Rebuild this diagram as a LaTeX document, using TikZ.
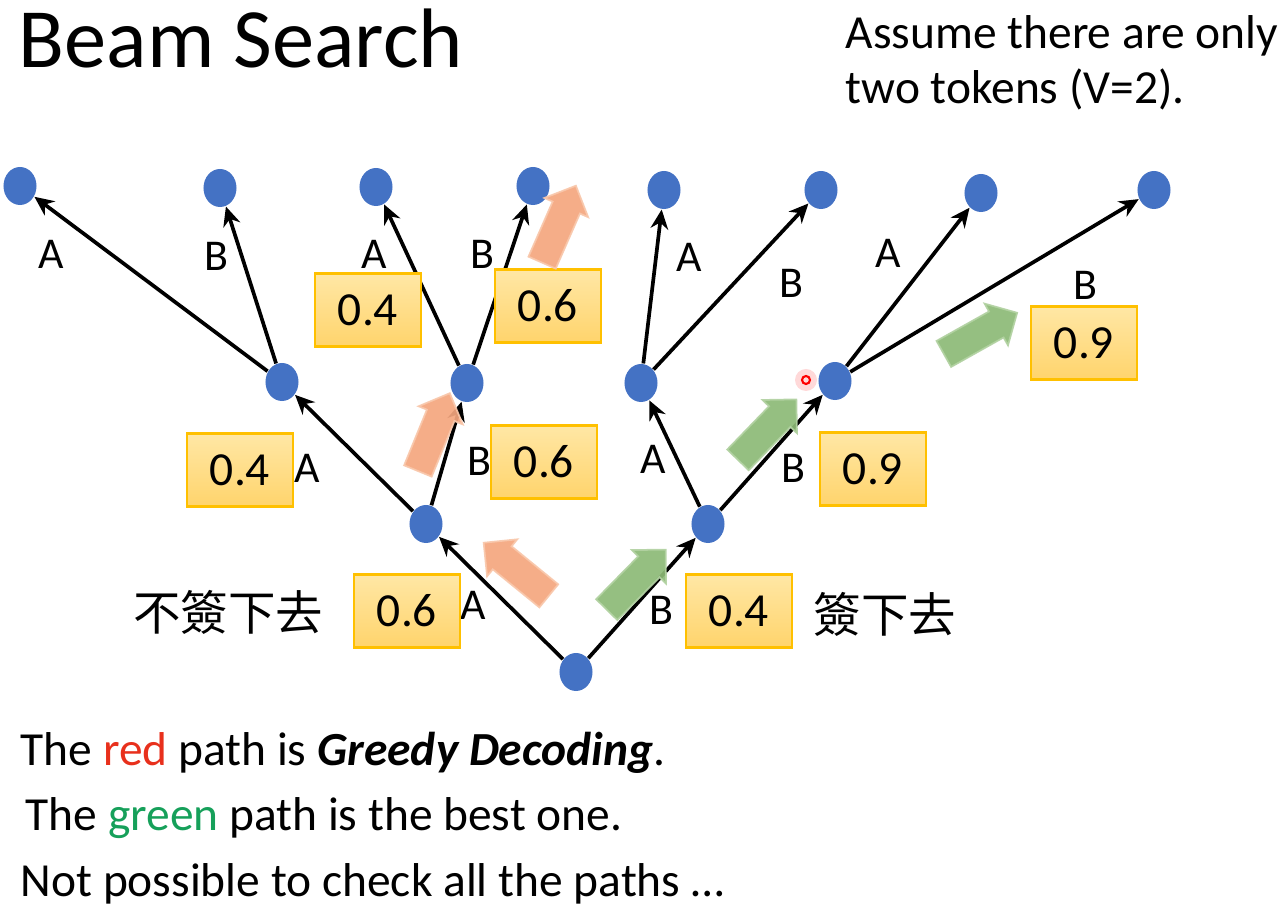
\documentclass[tikz,border=0pt]{standalone}
\usepackage{fontspec}
\setmainfont{Carlito}
\newfontfamily\cjkfont{Noto Sans CJK TC}
\usetikzlibrary{arrows.meta,shapes.geometric,shapes.arrows,positioning}

\definecolor{dotblue}{RGB}{68,114,196}
\definecolor{boxgold}{RGB}{255,192,0}
\definecolor{boxtop}{RGB}{255,231,165}
\definecolor{boxbot}{RGB}{255,212,108}
\definecolor{greedy}{RGB}{244,166,126}
\definecolor{greedyrim}{RGB}{249,200,172}
\definecolor{best}{RGB}{140,186,118}
\definecolor{bestrim}{RGB}{178,210,162}
\definecolor{redtxt}{RGB}{232,48,28}
\definecolor{greentxt}{RGB}{22,160,90}

\tikzset{
  state/.style = {shape = ellipse, fill = dotblue, inner sep = 0pt,
                  minimum width = 0.33cm, minimum height = 0.38cm},
  edge/.style = {-{Stealth[length = 5.5pt, width = 5pt]}, line width = 1.05pt},
  tok/.style = {font = \fontsize{12.5}{14}\selectfont, inner sep = 0pt},
  prob/.style = {draw = boxgold, line width = 0.6pt, top color = boxtop,
                 bottom color = boxbot, minimum width = 1.06cm,
                 minimum height = 0.73cm, font = \fontsize{13.5}{16}\selectfont},
  blockarrow/.style = {single arrow, line width = 0.5pt, inner xsep = 0pt,
                       inner ysep = 0.14cm, single arrow head extend = 0.09cm,
                       minimum height = 0.84cm, opacity = 0.92},
  greedyarrow/.style = {blockarrow, fill = greedy, draw = greedyrim},
  bestarrow/.style = {blockarrow, fill = best, draw = bestrim},
  line/.style = {anchor = base west, inner sep = 0pt,
                 font = \fontsize{13.5}{16}\selectfont}
}

\begin{document}
\begin{tikzpicture}[x = 0.01cm, y = -0.01cm]
  \useasboundingbox (0,0) rectangle (1287,913);

  % title and note
  \node[anchor = base west, inner sep = 0pt, font = \fontsize{24}{28}\selectfont]
    (title) at (18,68) {Beam Search};
  \node[line] (note1) at (845,49) {Assume there are only};
  \node[line] (note2) at (845,104) {two tokens (V=2).};

  % the tree
  \foreach \n/\x/\y in {root/576/672,
      a/426/524, b/708/524,
      aa/282/382, ab/467/383, ba/641/383, bb/835/381,
      aaa/20/186, aab/220/188, aba/376/187, abb/533/186,
      baa/664/190, bab/821/190, bba/981/193, bbb/1154/190}
    \node[state] (\n) at (\x,\y) {};

  \draw[edge] (root) -- node[tok, pos = .44, left = 6pt] {A} (a);
  \draw[edge] (root) -- node[tok, pos = .4, right = 4.8pt] {B} (b);
  \draw[edge] (a) -- node[tok, pos = .37, left = 13.5pt] {A} (aa);
  \draw[edge] (a) -- node[tok, pos = .42, right = 6pt] {B} (ab);
  \draw[edge] (b) -- node[tok, pos = .44, left = 2.8pt] {A} (ba);
  \draw[edge] (b) -- node[tok, pos = .36, right = 6.3pt] {B} (bb);
  \draw[edge] (aa) -- node[tok, pos = .67, left = 13pt] {A} (aaa);
  \draw[edge] (aa) -- node[tok, pos = .68, left = 3.2pt] {B} (aab);
  \draw[edge] (ab) -- node[tok, pos = .69, left = 5.4pt] {A} (aba);
  \draw[edge] (ab) -- node[tok, pos = .69, left = 4pt] {B} (abb);
  \draw[edge] (ba) -- node[tok, pos = .69, right = 5.3pt] {A} (baa);
  \draw[edge] (ba) -- node[tok, pos = .52, right = 12.3pt] {B} (bab);
  \draw[edge] (bb) -- node[tok, pos = .71, left = 8.9pt] {A} (bba);
  \draw[edge] (bb) -- node[tok, pos = .815, below = 10.8pt] {B} (bbb);

  % probabilities
  \node[prob] (pA) at (407,611) {0.6};
  \node[prob] (pB) at (739,611) {0.4};
  \node[prob] (pAA) at (240,470) {0.4};
  \node[prob] (pAB) at (544,462) {0.6};
  \node[prob] (pBB) at (873,469) {0.9};
  \node[prob] (pABA) at (368,310) {0.4};
  \node[prob] (pABB) at (548,306) {0.6};
  \node[prob] (pBBB) at (1084,343) {0.9};

  \node[font = \cjkfont\fontsize{13.5}{16}\selectfont] (skip) at (228,612) {不簽下去};
  \node[font = \cjkfont\fontsize{13.5}{16}\selectfont] (sign) at (885,614) {簽下去};

  % greedy (red) and best (green) paths
  \node[greedyarrow, rotate = 140.8] (g1) at (522,574) {};
  \node[greedyarrow, rotate = 67.7] (g2) at (431,439) {};
  \node[greedyarrow, rotate = 66.3] (g3) at (556,231) {};
  \node[bestarrow, rotate = 45.5] (b1) at (631,585) {};
  \node[bestarrow, rotate = 46] (b2) at (762,435) {};
  \node[bestarrow, rotate = 29.3] (b3) at (974,337) {};

  % laser pointer
  \fill[red, opacity = 0.15] (806,380) circle (11);
  \draw[red, line width = 0.6pt] (806,380) circle (4);

  % remarks
  \node[line] (rem1) at (20,766)
    {The \textcolor{redtxt}{red} path is \textbf{\textit{Greedy Decoding}}.};
  \node[line] (rem2) at (25,831)
    {The \textcolor{greentxt}{green} path is the best one.};
  \node[line] (rem3) at (20,897) {Not possible to check all the paths \ldots};
\end{tikzpicture}
\end{document}
